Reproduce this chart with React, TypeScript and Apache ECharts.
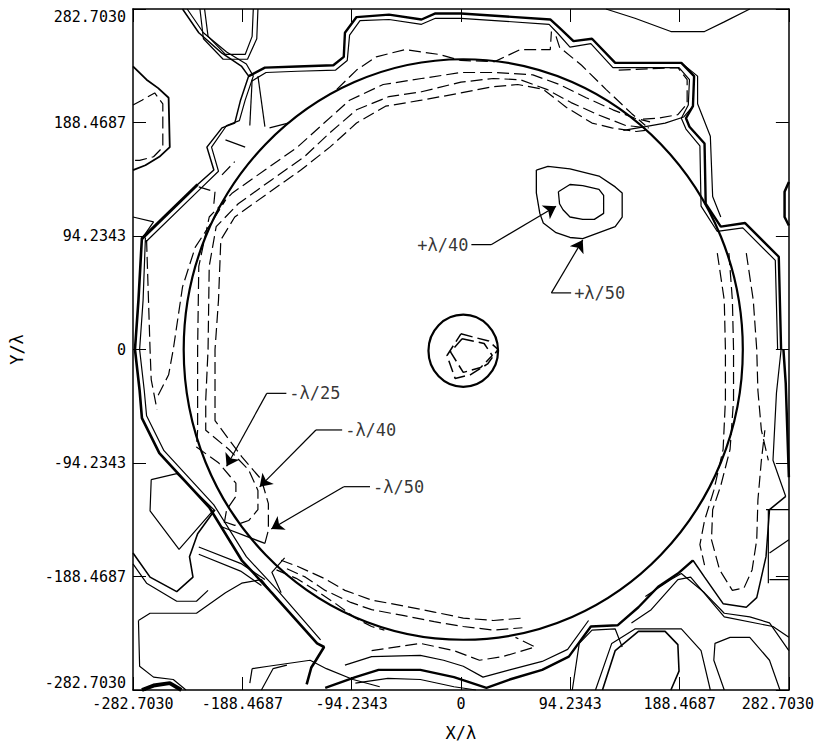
import { useEffect, useRef } from "react";
import * as echarts from "echarts";

// Axis definition (X/λ and Y/λ, symmetric about the origin)
const STEP = 94.2343;
const tickLabels = ["-282.7030", "-188.4687", "-94.2343", "0", "94.2343", "188.4687", "282.7030"];

// Reference circles: [cx, cy, r]
const rings = [
  [2, 0, 241],
  [2, -1, 30],
];

// Contour polylines, [x, y] in X/λ, Y/λ units
const leftHexOuter = [[-282.7, 235], [-271, 224], [-261, 217], [-252, 209], [-251, 168], [-260, 160], [-272, 153], [-282.7, 149]];
const leftHexInner = [[-282.7, 203], [-275, 207], [-264, 213], [-257, 204], [-257, 168], [-265, 160], [-277, 157], [-282.7, 157]];
const topHex = [[-221, 282.7], [-218, 260], [-203, 245], [-186, 245], [-180, 260], [-179, 282.7]];
const topHexOuter = [[-225, 282.7], [-222, 258], [-205, 241], [-184, 241], [-176, 258], [-175, 282.7]];
const forkBand = [[-240, 282.7], [-226, 263], [-206, 246], [-189, 235], [-183, 227], [-190, 207], [-195, 188], [-206, 184], [-219, 168], [-213, 149], [-227, 137], [-275, 92]];
const forkBandB = [[-236, 282.7], [-222, 263], [-202, 247], [-185, 237], [-179, 227], [-186, 207], [-191, 190], [-202, 186], [-215, 168], [-209, 148], [-224, 134], [-272, 89]];
const forkDiag = [[-227, 137], [-275, 92]];
const topBand = [[-183, 227], [-169, 234], [-141, 235], [-110, 236], [-101, 243], [-100, 263], [-90, 276], [-62, 278], [-34, 274], [-22, 279], [0, 279], [77, 274], [85, 267], [97, 256], [113, 258], [133, 238], [190, 238], [201, 227], [200, 202], [194, 192], [197, 185], [210, 171], [211, 121], [224, 102], [245, 105], [274, 77], [276, 0]];
const topBandInner = [[-180, 223], [-168, 230], [-141, 231], [-108, 232], [-98, 240], [-96, 261], [-87, 273], [-62, 274], [-34, 270], [-22, 275], [0, 275], [76, 270], [83, 263], [94, 251], [112, 254], [131, 234], [188, 234], [197, 224], [196, 203], [190, 192], [194, 183], [206, 169], [207, 119], [221, 98], [243, 101], [271, 74], [273, 0]];
const topBandOuter = [[190, 238], [204, 227], [204, 204], [215, 177], [217, 127], [224, 110]];
const bumpDash = [[136, 232], [187, 234], [195, 224], [195, 204], [187, 195], [170, 192], [153, 191]];
const bumpEdge = [[200, 202], [192, 193], [176, 188], [159, 185], [140, 182]];
const topArc = [[125, 282.7], [150, 275], [181, 264], [210, 264], [227, 272], [249, 282.7]];
const rightNotch = [[282.7, 139], [279, 131], [279, 110], [282.7, 103]];

// Positive contours (+λ/50 outer, +λ/40 inner)
const plusOuter = [[65, 149], [75, 152], [94, 150], [119, 144], [133, 135], [139, 130], [139, 110], [133, 102], [119, 97], [105, 92], [94, 93], [82, 97], [71, 105], [68, 113], [65, 130], [65, 149]];
const plusInner = [[84, 131], [94, 137], [105, 136], [119, 133], [123, 128], [123, 113], [115, 108], [105, 108], [94, 110], [88, 116], [85, 121], [84, 131]];

// Negative contours inside the aperture
const ringA = [[-204, -144], [-202, -133], [-194, -122], [-194, -111], [-209, -94], [-228, -81], [-227, -67], [-227, -42], [-227, 0], [-226, 69], [-217, 110], [-197, 130], [-169, 149], [-141, 168], [-118, 188], [-96, 207], [-67, 220], [-34, 225], [0, 230], [30, 230], [62, 228], [85, 220], [108, 209], [131, 199], [150, 192], [163, 189]];
const ringB = [[-204, -143], [-195, -146], [-183, -142], [-175, -133], [-175, -117], [-183, -100], [-200, -83], [-220, -67], [-220, -42], [-218, 0], [-217, 69], [-211, 102], [-192, 121], [-163, 141], [-135, 160], [-113, 180], [-90, 199], [-62, 210], [-34, 214], [0, 222], [28, 225], [51, 224], [74, 216], [95, 205], [118, 195], [142, 186], [162, 184]];
const ringC = [[-169, -161], [-166, -150], [-166, -128], [-172, -108], [-189, -89], [-212, -59], [-212, -42], [-212, 0], [-209, 41], [-207, 91], [-195, 110], [-166, 130], [-138, 149], [-113, 168], [-90, 188], [-65, 202], [-34, 207], [0, 213], [26, 218], [49, 220], [71, 216], [91, 201], [113, 188], [130, 184], [151, 181], [159, 182]];
const lobeEdge = [[-169, -161], [-207, -147]];
const floorDashA = [[-155, -175], [-141, -180], [-118, -190], [-100, -200], [-77, -208], [-49, -213], [-23, -218], [2, -223], [28, -225], [53, -223]];
const floorDashB = [[-150, -182], [-134, -189], [-117, -200], [-95, -210], [-77, -216], [-49, -221], [-23, -226], [2, -230], [28, -233], [53, -231]];
const underDash = [[-77, -250], [-35, -244], [-6, -250], [16, -258], [36, -255], [64, -247], [47, -239]];
const outerDashLow = [[-159, -183], [-142, -190], [-125, -200], [-108, -211], [-91, -223], [-77, -230], [-66, -233]];
const northDash = [[-107, 216], [-90, 232], [-73, 243], [-48, 249], [-19, 245], [0, 240], [29, 239], [51, 249], [77, 249], [78, 264]];
const northDiag = [[82, 260], [85, 251], [104, 236], [125, 216], [147, 196], [159, 186]];
const westDash = [[-261, -38], [-252, -21], [-248, 0], [-240, 52], [-229, 85], [-212, 110], [-203, 124]];
const westDashEdge = [[-271, 91], [-268, 0], [-267, -25], [-262, -50]];
const coreDashA = [[0, 13], [24, 7], [32, 0], [23, -12], [8, -21], [-5, -24], [-12, -5], [0, 13]];
const coreDashB = [[1, 9], [20, 5], [27, -5], [17, -15], [2, -19], [-9, -2], [1, 9]];

// Bottom and east side
const floorBand = [[-117, -281], [-91, -272], [-71, -266], [-35, -266], [-6, -272], [22, -281], [42, -274], [70, -266], [93, -255], [112, -230], [135, -229], [153, -214], [170, -197], [187, -186], [200, -175]];
const floorBandUpper = [[-100, -262], [-77, -255], [-35, -254], [-15, -258], [2, -263], [19, -272], [42, -266], [70, -259], [92, -249], [110, -225]];
const floorBandLower = [[-91, -277], [-63, -273], [-35, -274], [-6, -280], [13, -282.7]];
const floorBandLeft = [[-180, -265], [-166, -263], [-130, -258], [-116, -265], [-93, -274], [-70, -280]];
const cornerCell = [[227, -282.7], [218, -258], [219, -244], [232, -239], [249, -239], [266, -258], [275, -282.7]];
const ovalInner = [[122, -282.7], [133, -250], [153, -234], [176, -234], [187, -245], [188, -267], [181, -282.7]];
const ovalOuter = [[116, -282.7], [130, -244], [150, -232], [190, -232], [207, -250], [215, -282.7]];
const ovalLeft = [[96, -282.7], [102, -244], [113, -233], [133, -232], [139, -247]];
const seBandA = [[147, -227], [164, -216], [187, -191], [198, -189], [227, -222], [269, -230], [282.7, -239]];
const seBandB = [[159, -205], [181, -191], [190, -186], [210, -202], [227, -219], [249, -222], [266, -227], [282.7, -250]];
const eastDashA = [[221, 80], [227, 41], [228, 0], [228, -42], [226, -83], [218, -117], [210, -142], [206, -162], [210, -179]];
const eastDashB = [[231, 80], [234, 41], [235, 0], [235, -42], [232, -83], [224, -113], [217, -133], [216, -158], [223, -183], [234, -200], [244, -198], [251, -183], [255, -158], [256, -125], [259, -92], [262, -67]];
const eastEdge = [[200, -175], [210, -189], [226, -211], [246, -214], [255, -206], [263, -172], [266, -133], [280, -122]];
const eastDashOuter = [[246, 80], [252, 41], [255, 0], [256, -34], [259, -67], [265, -92]];
const eastWallA = [[278, 0], [280, -28], [282.7, -106]];
const eastWallB = [[276, 0], [272, -36], [269, -92], [280, -122]];
const boxTop = [[263, -133], [282.7, -133]];
const boxSide = [[265, -133], [265, -194]];
const boxBase = [[266, -191], [282.7, -191]];
const boxSlant = [[266, -169], [282.7, -158]];

// West side
const westWall = [[-275, 93], [-278, 41], [-281, 0], [-277, -34], [-275, -57], [-260, -86], [-217, -131], [-189, -175], [-163, -202], [-124, -244], [-118, -247], [-125, -258], [-129, -264], [-133, -278]];
const westWallB = [[-272, 93], [-274, 41], [-277, 0], [-273, -34], [-271, -55], [-256, -84], [-213, -129], [-185, -172], [-159, -199], [-121, -241]];
const hexCell = [[-267, -108], [-245, -103], [-213, -133], [-243, -166], [-268, -134], [-267, -108]];
const hexOuter = [[-282.7, -169], [-268, -189], [-245, -201], [-231, -189], [-234, -172], [-227, -153], [-212, -133]];
const hexOuter2 = [[-282.7, -178], [-271, -194], [-245, -209], [-228, -209], [-218, -200]];
const hexSpur = [[-226, -164], [-189, -178], [-169, -191]];
const hexSpur2 = [[-226, -170], [-190, -184], [-172, -196]];
const lowCell = [[-278, -225], [-268, -219], [-228, -219], [-203, -202], [-189, -194], [-172, -191], [-158, -208]];
const lowCellB = [[-278, -225], [-277, -263], [-265, -272], [-248, -274], [-237, -282.7]];
const cornerBlob = [[-275, -282.7], [-265, -279], [-251, -277], [-241, -282.7]];
const stubA = [[-172, -282.7], [-162, -265], [-150, -262]];
const stubB = [[-180, -265], [-182, -277]];
const junction = [[-152, -173], [-163, -185], [-155, -202]];
const forkTick = [[-203, 174], [-186, 168]];
const forkDashBit = [[-206, 145], [-195, 156]];
const rimBit = [[-165, 184], [-149, 188]];
const forkStemA = [[-180, 224], [-182, 186]];
const forkStemB = [[-175, 227], [-169, 185]];
const forkHook = [[-226, 135], [-212, 131], [-213, 121]];
const wedge = [[-282.7, 110], [-265, 106], [-275, 92]];

// Annotations: leader polyline, arrow segment, label
const leaders = [
  [[9, 87], [26, 87]],
  [[95, 47], [78, 47]],
  [[-150.5, -36.4], [-167.4, -36.4]],
  [[-102.4, -66.8], [-125, -66.8]],
  [[-78.4, -113.9], [-101, -113.9]],
];
const arrowHeads = [
  [[26, 87], [82, 119]],
  [[78, 47], [105, 91]],
  [[-167.4, -36.4], [-202, -97]],
  [[-125, -66.8], [-173.5, -114]],
  [[-101, -113.9], [-163.5, -149]],
];
const noteTexts = ["+λ/40", "+λ/50", "-λ/25", "-λ/40", "-λ/50"];
const noteAnchors = [[9, 87], [95, 47], [-150.5, -36.4], [-102.4, -66.8], [-78.4, -113.9]];
const noteSides = ["left", "right", "right", "right", "right"];

const THIN = 1.2;
const THICK = 2.4;
const DASH = [12, 5];

const contours = [
  { pts: leftHexOuter, w: 1.8 },
  { pts: leftHexInner, w: THIN, dash: true },
  { pts: topHex, w: THIN },
  { pts: topHexOuter, w: THIN },
  { pts: forkBand, w: 1.5 },
  { pts: forkBandB, w: THIN },
  { pts: forkDiag, w: 3 },
  { pts: topBand, w: THICK },
  { pts: topBandInner, w: THIN },
  { pts: topBandOuter, w: THIN },
  { pts: bumpDash, w: THIN, dash: true },
  { pts: bumpEdge, w: THIN },
  { pts: topArc, w: THIN },
  { pts: rightNotch, w: 2.5 },
  { pts: plusOuter, w: 1.3 },
  { pts: plusInner, w: 1.3 },
  { pts: ringA, w: THIN, dash: true },
  { pts: ringB, w: THIN, dash: true },
  { pts: ringC, w: THIN, dash: true },
  { pts: lobeEdge, w: THIN },
  { pts: floorDashA, w: THIN, dash: true },
  { pts: floorDashB, w: THIN, dash: true },
  { pts: underDash, w: THIN, dash: true },
  { pts: outerDashLow, w: THIN, dash: true },
  { pts: northDash, w: THIN, dash: true },
  { pts: northDiag, w: THIN, dash: true },
  { pts: westDash, w: THIN, dash: true },
  { pts: westDashEdge, w: THIN, dash: true },
  { pts: coreDashA, w: 1.5, dash: true },
  { pts: coreDashB, w: 1.5, dash: true },
  { pts: floorBand, w: THICK },
  { pts: floorBandUpper, w: THIN },
  { pts: floorBandLower, w: THIN },
  { pts: floorBandLeft, w: THIN },
  { pts: cornerCell, w: THIN },
  { pts: ovalInner, w: 1.6 },
  { pts: ovalOuter, w: THIN },
  { pts: ovalLeft, w: THIN },
  { pts: seBandA, w: THIN },
  { pts: seBandB, w: THIN },
  { pts: eastDashA, w: THIN, dash: true },
  { pts: eastDashB, w: THIN, dash: true },
  { pts: eastEdge, w: 1.5 },
  { pts: eastDashOuter, w: THIN, dash: true },
  { pts: eastWallA, w: 2.5 },
  { pts: eastWallB, w: THIN },
  { pts: boxTop, w: THIN },
  { pts: boxSide, w: THIN },
  { pts: boxBase, w: THIN },
  { pts: boxSlant, w: THIN },
  { pts: westWall, w: 2.6 },
  { pts: westWallB, w: THIN },
  { pts: hexCell, w: THIN },
  { pts: hexOuter, w: 1.6 },
  { pts: hexOuter2, w: THIN },
  { pts: hexSpur, w: THIN },
  { pts: hexSpur2, w: THIN },
  { pts: lowCell, w: THIN },
  { pts: lowCellB, w: THIN },
  { pts: cornerBlob, w: 4 },
  { pts: stubA, w: THIN },
  { pts: stubB, w: THIN },
  { pts: junction, w: THIN },
  { pts: forkTick, w: THIN },
  { pts: forkDashBit, w: THIN, dash: true },
  { pts: rimBit, w: THIN },
  { pts: forkStemA, w: THIN },
  { pts: forkStemB, w: THIN },
  { pts: forkHook, w: THIN, dash: true },
  { pts: wedge, w: THIN },
];

const FONT = "'DejaVu Sans Mono', 'DejaVu Sans', monospace";

function tickText(v: number) {
  const i = Math.round(v / STEP) + 3;
  return tickLabels[i] ?? "";
}

export default function App() {
  const ref = useRef<HTMLDivElement>(null);

  useEffect(() => {
    if (!ref.current) return;
    const chart = echarts.init(ref.current, undefined, { renderer: "svg" });

    const axisCommon = {
      type: "value",
      min: -3 * STEP,
      max: 3 * STEP,
      interval: STEP,
      splitLine: { show: false },
      axisLine: { show: true, onZero: false, lineStyle: { color: "#000", width: 1.5 } },
      axisTick: { show: true, inside: true, length: 13, lineStyle: { color: "#000", width: 1 } },
    };

    const series: any[] = contours.map((c) => ({
      type: "line",
      data: c.pts,
      showSymbol: false,
      symbol: "none",
      silent: true,
      clip: true,
      emphasis: { disabled: true },
      lineStyle: { color: "#000", width: c.w, type: c.dash ? DASH : "solid" },
      z: 2,
    }));

    series.push({
      type: "custom",
      coordinateSystem: "cartesian2d",
      data: rings,
      silent: true,
      clip: true,
      z: 3,
      renderItem: (_params: any, api: any) => {
        const c = api.coord([api.value(0), api.value(1)]);
        const s = api.size([api.value(2), api.value(2)]);
        return {
          type: "ellipse",
          shape: { cx: c[0], cy: c[1], rx: s[0], ry: s[1] },
          style: { fill: "none", stroke: "#000", lineWidth: 2.2 },
        };
      },
    });

    leaders.forEach((pts) => {
      series.push({
        type: "line",
        data: pts,
        showSymbol: false,
        symbol: "none",
        silent: true,
        emphasis: { disabled: true },
        lineStyle: { color: "#000", width: 1.2 },
        z: 4,
      });
    });

    series.push({
      type: "lines",
      coordinateSystem: "cartesian2d",
      silent: true,
      symbol: ["none", "arrow"],
      symbolSize: 12,
      lineStyle: { color: "#000", width: 1.2, opacity: 1 },
      itemStyle: { color: "#000" },
      data: arrowHeads.map((seg) => ({ coords: seg })),
      z: 4,
    });

    series.push({
      type: "scatter",
      symbolSize: 0,
      silent: true,
      z: 5,
      data: noteAnchors.map((p, i) => ({
        value: p,
        label: { position: noteSides[i], formatter: noteTexts[i] },
      })),
      label: { show: true, color: "#000", fontFamily: FONT, fontSize: 17, distance: 3 },
    });

    chart.setOption({
      animation: false,
      backgroundColor: "#fff",
      grid: { left: 124, top: 9, width: 667, height: 681, containLabel: false },
      xAxis: [
        {
          ...axisCommon,
          position: "bottom",
          name: "X/λ",
          nameLocation: "middle",
          nameGap: 34,
          nameTextStyle: { color: "#000", fontFamily: FONT, fontSize: 17 },
          axisLabel: {
            color: "#000",
            fontFamily: FONT,
            fontSize: 15,
            margin: 6,
            formatter: (v: number) => {
              const t = tickText(v);
              return Math.round(v / STEP) === 3 ? `{last|${t}}` : t;
            },
            rich: {
              last: { fontFamily: FONT, fontSize: 15, color: "#000", padding: [0, 22, 0, 0] },
            },
          },
        },
        { ...axisCommon, position: "top", axisLabel: { show: false } },
      ],
      yAxis: [
        {
          ...axisCommon,
          position: "left",
          name: "Y/λ",
          nameLocation: "middle",
          nameGap: 108,
          nameTextStyle: { color: "#000", fontFamily: FONT, fontSize: 17 },
          axisLabel: {
            color: "#000",
            fontFamily: FONT,
            fontSize: 15,
            margin: 7,
            formatter: tickText,
            verticalAlignMinLabel: "bottom",
            verticalAlignMaxLabel: "top",
          },
        },
        { ...axisCommon, position: "right", axisLabel: { show: false } },
      ],
      series,
    });

    return () => chart.dispose();
  }, []);

  return (
    <div
      ref={ref}
      style={{ position: "absolute", left: 0, top: 0, width: 817, height: 747, background: "#fff" }}
    />
  );
}
